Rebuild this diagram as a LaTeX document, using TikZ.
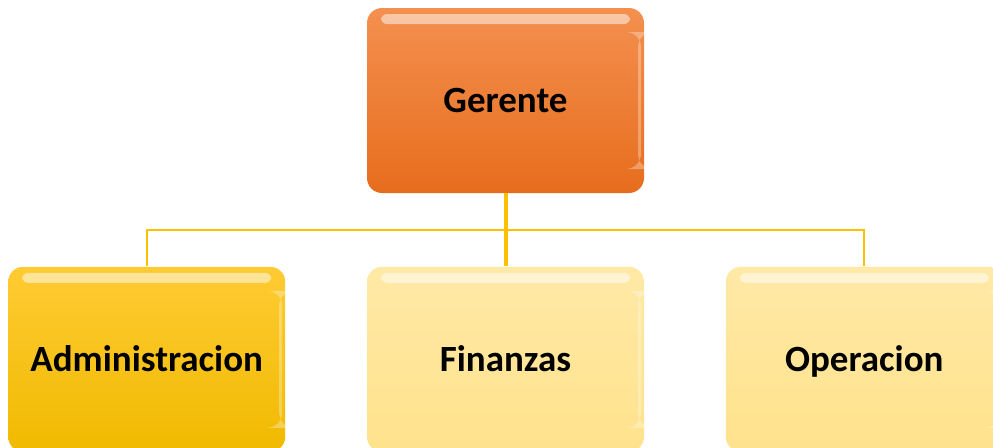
\documentclass[tikz,border=0pt]{standalone}
\usepackage{fontspec}
\setmainfont{Carlito}
\usetikzlibrary{positioning,calc}

\definecolor{orangeTop}{HTML}{F4904F}
\definecolor{orangeBot}{HTML}{E76D1D}
\definecolor{goldTop}{HTML}{FFCB33}
\definecolor{goldBot}{HTML}{F0BA00}
\definecolor{paleTop}{HTML}{FFE9A6}
\definecolor{paleBot}{HTML}{FFE28C}
\definecolor{linkColor}{HTML}{FFC000}

\begin{document}
\begin{tikzpicture}[node distance=40.5pt]
\tikzset{
  box/.style={rectangle, rounded corners=7.5pt, inner sep=0pt,
    minimum width=138.5pt, minimum height=92.5pt, text centered,
    text height=12pt, text depth=0pt,
    font=\fontsize{18.5}{22}\selectfont\bfseries,
    path picture={
      \fill[white, opacity=.5, rounded corners=3pt]
        ([xshift=7pt,yshift=-3pt]path picture bounding box.north west)
        rectangle ([xshift=-7pt,yshift=-8pt]path picture bounding box.north east);
      \fill[white, opacity=.3]
        ([xshift=-3pt,yshift=-12pt]path picture bounding box.north east)
        rectangle ([xshift=-1.5pt,yshift=12pt]path picture bounding box.south east);
    }},
  boss/.style={box, top color=orangeTop, bottom color=orangeBot},
  dept/.style={box, top color=paleTop, bottom color=paleBot},
  deptOn/.style={box, top color=goldTop, bottom color=goldBot},
  link/.style={draw=linkColor, line width=1pt}
}
\useasboundingbox (0,0) rectangle (496.5pt,-223.5pt);

\node [boss] (gerente) at (252.75pt,-50.25pt) {Gerente};
\node [dept, below=36.5pt of gerente] (finanzas) {Finanzas};
\node [deptOn, left=of finanzas] (admin) {Administracion};
\node [dept, right=of finanzas] (operacion) {Operacion};

\coordinate (bar) at ($(gerente.south)!.5!(finanzas.north)$);
\draw [link] (admin.north) |- (bar) -| (operacion.north);
\draw [link, line width=2pt] (gerente.south) -- (finanzas.north);

\end{tikzpicture}
\end{document}
